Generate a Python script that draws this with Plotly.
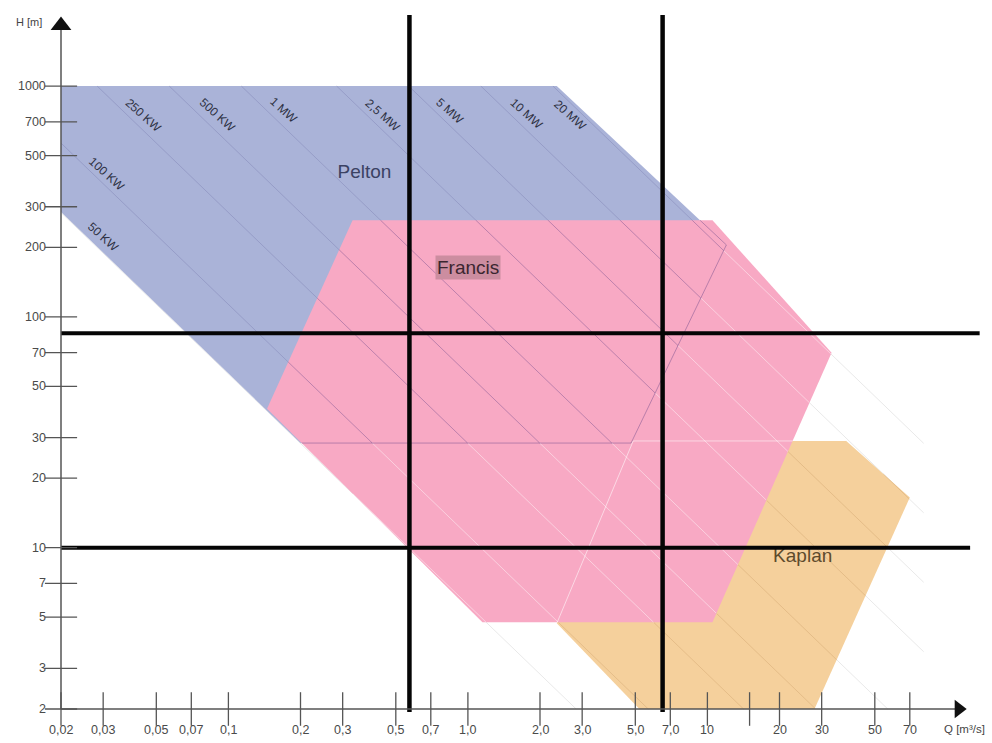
import numpy as np
import plotly.graph_objects as go

# ---------------- data ----------------
# axis ticks (Q in m3/s, H in m)
q_ticks = [0.02, 0.03, 0.05, 0.07, 0.1, 0.2, 0.3, 0.5, 0.7, 1.0, 2.0, 3.0, 5.0, 7.0,
           10, 15, 20, 30, 50, 70]
q_tick_labels = ["0,02", "0,03", "0,05", "0,07", "0,1", "0,2", "0,3", "0,5", "0,7", "1,0",
                 "2,0", "3,0", "5,0", "7,0", "10", "", "20", "30", "50", "70"]
h_ticks = [2, 3, 5, 7, 10, 20, 30, 50, 70, 100, 200, 300, 500, 700, 1000]
h_tick_labels = ["2", "3", "5", "7", "10", "20", "30", "50", "70", "100", "200", "300",
                 "500", "700", "1000"]

# application ranges of the turbine types (polygon corners, Q / H)
pelton_q = [0.02, 2.35, 12.0, 4.8, 0.2, 0.02]
pelton_h = [1000, 1000, 205, 28.4, 28.4, 285]
francis_q = [0.33, 10.5, 33.0, 10.5, 1.15, 0.145]
francis_h = [262, 262, 70, 4.75, 4.75, 40]
kaplan_q = [4.9, 38, 70, 28, 5.2, 2.35]
kaplan_h = [29, 29, 16.5, 2, 2, 4.7]

# lines of constant output power  P = 9.81 * eta * Q * H  [kW]
power_kw = [50, 100, 250, 500, 1000, 2500, 5000, 10000, 20000]
power_labels = ["50 KW", "100 KW", "250 KW", "500 KW", "1 MW", "2,5 MW", "5 MW", "10 MW", "20 MW"]
efficiency = 0.9

# site limits marked on the chart
site_h = [85, 10]
site_q = [0.57, 6.5]

# ---------------- frame geometry ----------------
FIG_W, FIG_H = 992, 743
Q_ORIGIN, H_ORIGIN = 0.02, 2.0
X_ORIGIN_PX, Y_ORIGIN_PX = 61, 709
X_PX_DEC, Y_PX_DEC = 239.5, 230.8
x_range = [np.log10(Q_ORIGIN) - X_ORIGIN_PX / X_PX_DEC,
           np.log10(Q_ORIGIN) + (FIG_W - X_ORIGIN_PX) / X_PX_DEC]
y_range = [np.log10(H_ORIGIN) - (FIG_H - Y_ORIGIN_PX) / Y_PX_DEC,
           np.log10(H_ORIGIN) + Y_ORIGIN_PX / Y_PX_DEC]

FONT = "Liberation Sans, Arial, Helvetica, sans-serif"
PELTON_FILL = "#aab3d8"
FRANCIS_FILL = "#f8a9c4"
KAPLAN_FILL = "#f5d09c"


# ---------------- helpers (log-space geometry) ----------------
def clip_interval(p0, p1, poly_q, poly_h):
    """Parameter range [t0, t1] of the segment p0->p1 lying inside a convex polygon."""
    pts = list(zip(np.log10(poly_q), np.log10(poly_h)))
    n = len(pts)
    area = sum(pts[i][0] * pts[(i + 1) % n][1] - pts[(i + 1) % n][0] * pts[i][1] for i in range(n))
    sgn = 1.0 if area > 0 else -1.0
    dx, dy = p1[0] - p0[0], p1[1] - p0[1]
    t0, t1 = 0.0, 1.0
    for i in range(n):
        ax, ay = pts[i]
        bx, by = pts[(i + 1) % n]
        ex, ey = bx - ax, by - ay
        f0 = sgn * (ex * (p0[1] - ay) - ey * (p0[0] - ax))
        fd = sgn * (ex * dy - ey * dx)
        if abs(fd) < 1e-12:
            if f0 < 0:
                return None
            continue
        t = -f0 / fd
        if fd > 0:
            t0 = max(t0, t)
        else:
            t1 = min(t1, t)
    if t1 - t0 < 1e-9:
        return None
    return (t0, t1)


def subtract(iv, cut):
    if iv is None:
        return []
    if cut is None:
        return [iv]
    a, b = iv
    c, d = cut
    out = []
    if c > a:
        out.append((a, min(b, c)))
    if d < b:
        out.append((max(a, d), b))
    return [(s, e) for s, e in out if e - s > 1e-9]


def intersect(iv, other):
    if iv is None or other is None:
        return []
    s, e = max(iv[0], other[0]), min(iv[1], other[1])
    return [(s, e)] if e - s > 1e-9 else []


def add_pieces(xs, ys, p0, p1, pieces):
    for t0, t1 in pieces:
        for t in (t0, t1):
            xs.append(10 ** (p0[0] + t * (p1[0] - p0[0])))
            ys.append(10 ** (p0[1] + t * (p1[1] - p0[1])))
        xs.append(None)
        ys.append(None)


def line_trace(xs, ys, color, width=1.0):
    return go.Scatter(x=xs, y=ys, mode="lines", line=dict(color=color, width=width),
                      hoverinfo="skip", showlegend=False)


# power line segments in log space
power_segments = []
for p in power_kw:
    logc = np.log10(p / (9.81 * efficiency))
    u_lo = max(np.log10(Q_ORIGIN), logc - 3.0)
    u_hi = min(np.log10(80), logc - np.log10(H_ORIGIN))
    power_segments.append(((u_lo, logc - u_lo), (u_hi, logc - u_hi)))

fig = go.Figure()

# faint power lines on the white background
gx, gy = [], []
for p0, p1 in power_segments:
    add_pieces(gx, gy, p0, p1, [(0.0, 1.0)])
fig.add_trace(line_trace(gx, gy, "rgba(0,0,0,0.09)"))

# turbine areas
for qs, hs, col in [(kaplan_q, kaplan_h, KAPLAN_FILL),
                    (pelton_q, pelton_h, PELTON_FILL),
                    (francis_q, francis_h, FRANCIS_FILL)]:
    fig.add_trace(go.Scatter(x=qs + [qs[0]], y=hs + [hs[0]], mode="lines", fill="toself",
                             fillcolor=col, line=dict(width=0, color=col),
                             hoverinfo="skip", showlegend=False))

# power lines tinted per area
fx, fy, kx, ky, bx_, by_, mx, my = [], [], [], [], [], [], [], []
for p0, p1 in power_segments:
    in_p = clip_interval(p0, p1, pelton_q, pelton_h)
    in_f = clip_interval(p0, p1, francis_q, francis_h)
    in_k = clip_interval(p0, p1, kaplan_q, kaplan_h)
    add_pieces(fx, fy, p0, p1, subtract(in_f, in_p))
    add_pieces(kx, ky, p0, p1, subtract(in_k, in_f))
    add_pieces(bx_, by_, p0, p1, subtract(in_p, in_f))
    add_pieces(mx, my, p0, p1, intersect(in_p, in_f))
fig.add_trace(line_trace(fx, fy, "rgba(255,255,255,0.45)"))
fig.add_trace(line_trace(kx, ky, "rgba(140,90,30,0.16)"))
fig.add_trace(line_trace(bx_, by_, "rgba(55,50,120,0.17)"))
fig.add_trace(line_trace(mx, my, "rgba(70,45,120,0.33)"))

# outlines of Pelton and Kaplan seen through the Francis area
ox, oy, wx, wy = [], [], [], []
for qs, hs, xs, ys in [(pelton_q, pelton_h, ox, oy), (kaplan_q, kaplan_h, wx, wy)]:
    n = len(qs)
    for i in range(n):
        a = (np.log10(qs[i]), np.log10(hs[i]))
        b = (np.log10(qs[(i + 1) % n]), np.log10(hs[(i + 1) % n]))
        iv = clip_interval(a, b, francis_q, francis_h)
        if iv is not None:
            add_pieces(xs, ys, a, b, [iv])
fig.add_trace(line_trace(ox, oy, "rgba(70,45,120,0.35)"))
fig.add_trace(line_trace(wx, wy, "rgba(255,255,255,0.55)"))

# area names drawn beneath the site marks
fig.add_trace(go.Scatter(x=[0.37], y=[420], mode="text", text=["Pelton"],
                         textfont=dict(family=FONT, size=19, color="#3b4263"),
                         hoverinfo="skip", showlegend=False))
fig.add_trace(go.Scatter(x=[25], y=[9.1], mode="text", text=["Kaplan"],
                         textfont=dict(family=FONT, size=19, color="#5e4b2c"),
                         hoverinfo="skip", showlegend=False))

# site limits (thick black lines)
fig.add_trace(line_trace([0.02, 137, None, 0.02, 125], [site_h[0], site_h[0], None, site_h[1], site_h[1]],
                         "#050505", 4))
fig.add_trace(line_trace([site_q[0], site_q[0], None, site_q[1], site_q[1]],
                         [2030, 1.94, None, 2030, 1.94], "#050505", 4.5))

# axes with arrows
AXIS_COL = "#555555"
fig.add_trace(line_trace([Q_ORIGIN, 112, None, Q_ORIGIN, Q_ORIGIN],
                         [H_ORIGIN, H_ORIGIN, None, H_ORIGIN, 1828], AXIS_COL, 1.5))
fig.add_trace(go.Scatter(x=[Q_ORIGIN], y=[1828], mode="markers",
                         marker=dict(symbol="triangle-up", size=18, color="#111111"),
                         hoverinfo="skip", showlegend=False))
fig.add_trace(go.Scatter(x=[112], y=[H_ORIGIN], mode="markers",
                         marker=dict(symbol="triangle-right", size=16, color="#111111"),
                         hoverinfo="skip", showlegend=False))
fig.add_trace(go.Scatter(x=q_ticks, y=[H_ORIGIN] * len(q_ticks), mode="markers",
                         marker=dict(symbol="line-ns-open", size=24, color=AXIS_COL,
                                     line=dict(width=1.3, color=AXIS_COL)),
                         hoverinfo="skip", showlegend=False))
fig.add_trace(go.Scatter(x=[Q_ORIGIN] * len(h_ticks), y=h_ticks, mode="markers",
                         marker=dict(symbol="line-ew-open", size=23, color=AXIS_COL,
                                     line=dict(width=1.3, color=AXIS_COL)),
                         hoverinfo="skip", showlegend=False))

annotations = []
TICK_FONT = dict(family=FONT, size=12.5, color="#4a4a4a")
for v, t in zip(q_ticks, q_tick_labels):
    if t:
        annotations.append(dict(x=np.log10(v), y=np.log10(H_ORIGIN), xref="x", yref="y", text=t,
                                showarrow=False, xanchor="center", yanchor="top", yshift=-12,
                                font=TICK_FONT))
for v, t in zip(h_ticks, h_tick_labels):
    annotations.append(dict(x=np.log10(Q_ORIGIN), y=np.log10(v), xref="x", yref="y", text=t,
                            showarrow=False, xanchor="right", yanchor="middle", xshift=-13,
                            font=TICK_FONT))

# power labels along their lines
power_label_q = [0.030, 0.031, 0.044, 0.09, 0.17, 0.44, 0.84, 1.76, 2.67]
power_label_h = [222, 415, 750, 750, 790, 750, 780, 755, 750]
for q, h, t in zip(power_label_q, power_label_h, power_labels):
    annotations.append(dict(x=np.log10(q), y=np.log10(h), xref="x", yref="y", text=t,
                            showarrow=False, textangle=42,
                            font=dict(family=FONT, size=12, color="#2c2f40")))

annotations.append(dict(x=np.log10(1.0), y=np.log10(163), xref="x", yref="y", text="Francis",
                        showarrow=False, bgcolor="#cc8da0", borderpad=1,
                        font=dict(family=FONT, size=19, color="#3a2630")))
annotations.append(dict(x=29 / FIG_W, y=1 - 22 / FIG_H, xref="paper", yref="paper", text="H [m]",
                        showarrow=False, xanchor="center", yanchor="middle",
                        font=dict(family=FONT, size=11, color="#444444")))
annotations.append(dict(x=np.log10(112), y=np.log10(H_ORIGIN), xref="x", yref="y",
                        text="Q [m³/s]", showarrow=False, xanchor="center", yanchor="top",
                        xshift=6, yshift=-12, font=dict(family=FONT, size=11.5, color="#444444")))

fig.update_layout(
    width=FIG_W, height=FIG_H,
    margin=dict(l=0, r=0, t=0, b=0),
    paper_bgcolor="white", plot_bgcolor="white",
    showlegend=False,
    xaxis=dict(type="log", range=x_range, visible=False, fixedrange=True),
    yaxis=dict(type="log", range=y_range, visible=False, fixedrange=True),
    annotations=annotations,
)

fig.write_html("out.html")
